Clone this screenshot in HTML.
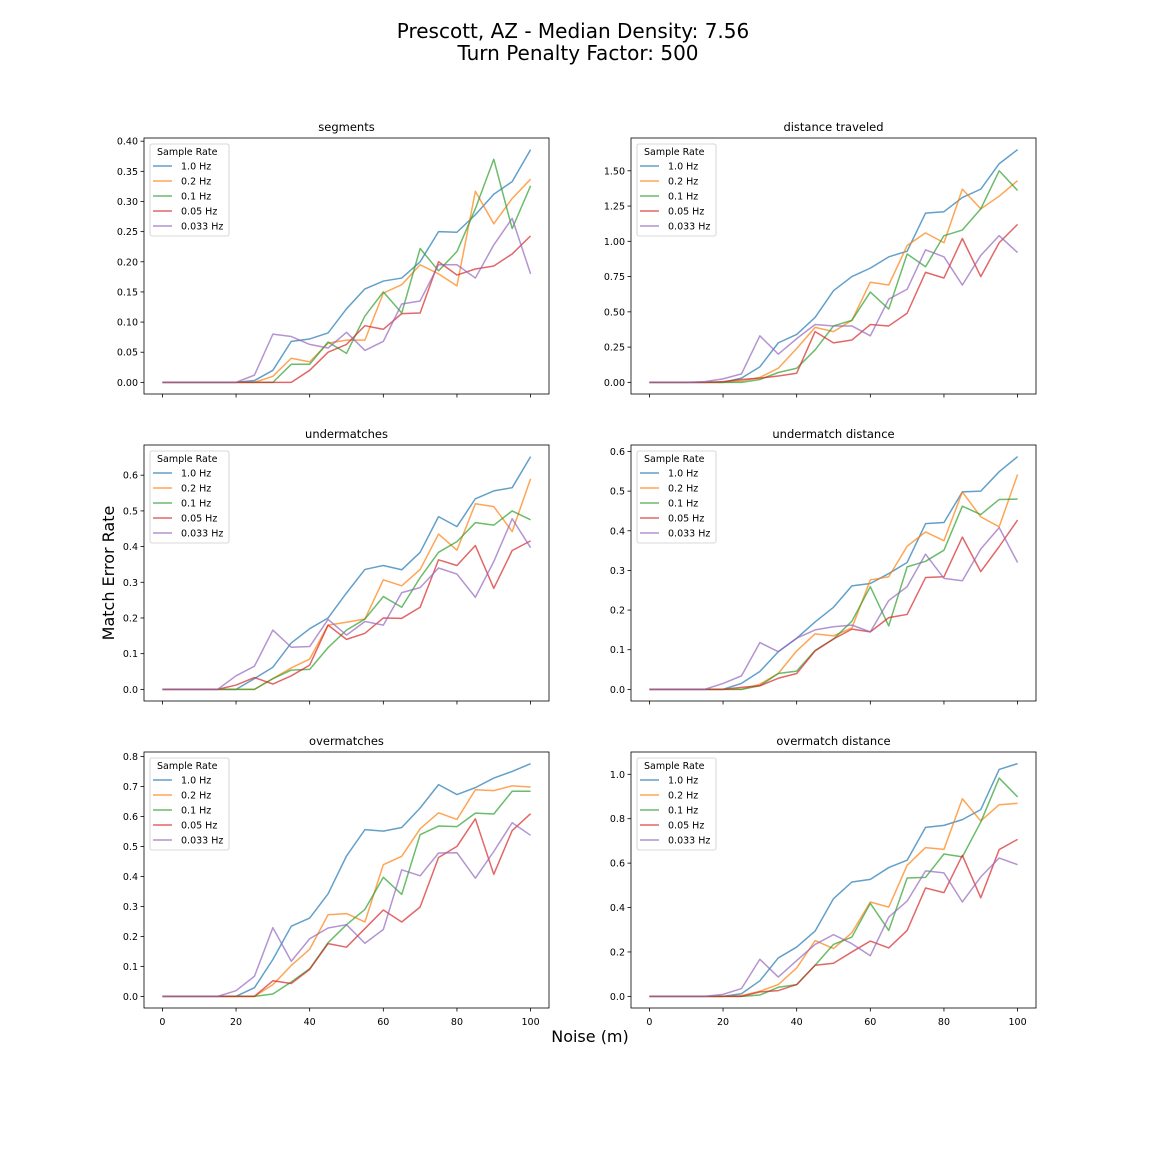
<!DOCTYPE html>
<html><head><meta charset="utf-8"><style>
body{margin:0;background:#fff;}
svg{display:block;font-family:"DejaVu Sans","Liberation Sans",sans-serif;}
</style></head><body>
<svg id="fig" width="1152" height="1152" viewBox="0 0 1152 1152" xmlns="http://www.w3.org/2000/svg">
<rect width="1152" height="1152" fill="#fff"/>
<text x="573" y="38" font-size="20" text-anchor="middle">Prescott, AZ - Median Density: 7.56</text>
<text x="578" y="60" font-size="20" text-anchor="middle">Turn Penalty Factor: 500</text>
<text transform="translate(114,573) rotate(-90)" font-size="16" text-anchor="middle">Match Error Rate</text>
<text x="590" y="1042" font-size="16" text-anchor="middle">Noise (m)</text>
<g id="panels"></g>
</svg>
<script>
const noise = [0,5,10,15,20,25,30,35,40,45,50,55,60,65,70,75,80,85,90,95,100];
const seriesNames = ["1.0 Hz","0.2 Hz","0.1 Hz","0.05 Hz","0.033 Hz"];
const xTicks = [0,20,40,60,80,100];
const panelTitles = ["segments","distance traveled","undermatches","undermatch distance","overmatches","overmatch distance"];
const yTicks1 = [0,0.05,0.10,0.15,0.20,0.25,0.30,0.35,0.40];
const yTicks2 = [0,0.25,0.5,0.75,1.0,1.25,1.5];
const yTicks3 = [0,0.1,0.2,0.3,0.4,0.5,0.6];
const yTicks4 = [0,0.1,0.2,0.3,0.4,0.5,0.6];
const yTicks5 = [0,0.1,0.2,0.3,0.4,0.5,0.6,0.7,0.8];
const yTicks6 = [0,0.2,0.4,0.6,0.8,1.0];
const segments = [
 [0,0,0,0,0,0.003,0.02,0.068,0.072,0.082,0.122,0.155,0.168,0.173,0.2,0.25,0.249,0.278,0.312,0.333,0.386],
 [0,0,0,0,0,0,0.01,0.04,0.034,0.065,0.07,0.07,0.148,0.162,0.195,0.18,0.16,0.317,0.263,0.305,0.337],
 [0,0,0,0,0,0,0,0.03,0.03,0.067,0.048,0.11,0.15,0.115,0.222,0.185,0.217,0.288,0.37,0.255,0.326],
 [0,0,0,0,0,0,0,0,0.02,0.05,0.063,0.094,0.088,0.114,0.115,0.2,0.178,0.188,0.193,0.213,0.243],
 [0,0,0,0,0,0.012,0.08,0.076,0.063,0.057,0.083,0.053,0.068,0.13,0.135,0.195,0.195,0.173,0.228,0.272,0.18]];
const distance = [
 [0,0,0,0,0,0.03,0.11,0.28,0.34,0.46,0.65,0.75,0.81,0.89,0.93,1.2,1.21,1.31,1.37,1.55,1.65],
 [0,0,0,0,0,0.01,0.035,0.1,0.24,0.39,0.36,0.44,0.71,0.69,0.97,1.06,0.99,1.37,1.23,1.32,1.43],
 [0,0,0,0,0,0,0.02,0.07,0.1,0.23,0.4,0.44,0.64,0.52,0.91,0.82,1.04,1.08,1.23,1.5,1.36],
 [0,0,0,0,0.005,0.02,0.03,0.045,0.065,0.36,0.28,0.3,0.41,0.4,0.49,0.78,0.74,1.02,0.75,0.99,1.12],
 [0,0,0,0.005,0.025,0.06,0.33,0.2,0.31,0.41,0.4,0.4,0.33,0.59,0.66,0.94,0.89,0.69,0.9,1.04,0.92]];
const undermatches = [
 [0,0,0,0,0,0.03,0.062,0.13,0.17,0.2,0.27,0.336,0.347,0.335,0.384,0.484,0.456,0.534,0.556,0.565,0.652],
 [0,0,0,0,0,0,0.03,0.06,0.085,0.18,0.188,0.197,0.307,0.29,0.336,0.435,0.39,0.52,0.512,0.442,0.59],
 [0,0,0,0,0,0,0.03,0.054,0.056,0.117,0.166,0.197,0.26,0.23,0.313,0.384,0.414,0.467,0.46,0.5,0.475],
 [0,0,0,0,0.012,0.033,0.015,0.038,0.068,0.18,0.14,0.157,0.2,0.199,0.23,0.363,0.347,0.403,0.283,0.389,0.416],
 [0,0,0,0,0.038,0.065,0.166,0.118,0.12,0.196,0.152,0.19,0.18,0.271,0.285,0.34,0.323,0.258,0.358,0.478,0.397]];
const underDist = [
 [0,0,0,0,0,0.015,0.045,0.095,0.129,0.17,0.207,0.261,0.267,0.292,0.32,0.418,0.421,0.498,0.5,0.549,0.587],
 [0,0,0,0,0,0,0.013,0.04,0.097,0.14,0.135,0.155,0.276,0.284,0.361,0.397,0.375,0.498,0.435,0.41,0.542],
 [0,0,0,0,0,0,0.009,0.04,0.046,0.098,0.127,0.172,0.259,0.16,0.309,0.323,0.351,0.462,0.441,0.479,0.48],
 [0,0,0,0,0,0.005,0.009,0.028,0.04,0.097,0.127,0.152,0.145,0.181,0.189,0.282,0.284,0.384,0.297,0.36,0.427],
 [0,0,0,0,0.015,0.034,0.118,0.095,0.129,0.15,0.158,0.162,0.145,0.224,0.259,0.341,0.28,0.274,0.354,0.408,0.32]];
const overmatches = [
 [0,0,0,0,0,0.029,0.123,0.234,0.261,0.342,0.468,0.556,0.551,0.563,0.628,0.706,0.673,0.696,0.728,0.75,0.776],
 [0,0,0,0,0,0,0.039,0.103,0.157,0.272,0.276,0.248,0.439,0.467,0.559,0.612,0.59,0.689,0.686,0.702,0.698],
 [0,0,0,0,0,0,0.008,0.048,0.092,0.179,0.239,0.29,0.397,0.34,0.539,0.568,0.566,0.611,0.608,0.684,0.684],
 [0,0,0,0,0,0,0.052,0.043,0.09,0.176,0.164,0.226,0.288,0.248,0.298,0.463,0.5,0.592,0.407,0.553,0.609],
 [0,0,0,0,0.019,0.067,0.229,0.117,0.192,0.228,0.239,0.177,0.223,0.422,0.402,0.478,0.479,0.394,0.483,0.579,0.537]];
const overDist = [
 [0,0,0,0,0,0.012,0.07,0.173,0.222,0.294,0.44,0.515,0.527,0.58,0.613,0.761,0.77,0.796,0.841,1.022,1.048],
 [0,0,0,0,0,0.003,0.023,0.053,0.128,0.251,0.215,0.287,0.425,0.402,0.59,0.67,0.662,0.89,0.79,0.863,0.869],
 [0,0,0,0,0,0,0.006,0.041,0.053,0.14,0.234,0.267,0.419,0.297,0.533,0.536,0.641,0.628,0.785,0.983,0.898],
 [0,0,0,0,0,0,0.02,0.026,0.053,0.14,0.149,0.2,0.249,0.218,0.297,0.488,0.467,0.635,0.444,0.661,0.707],
 [0,0,0,0,0.009,0.035,0.167,0.087,0.161,0.234,0.278,0.237,0.183,0.357,0.429,0.565,0.556,0.425,0.538,0.623,0.593]];

const colors = ["#1f77b4","#ff7f0e","#2ca02c","#d62728","#9467bd"];
const panelData = [segments,distance,undermatches,underDist,overmatches,overDist];
const panelTicks = [yTicks1,yTicks2,yTicks3,yTicks4,yTicks5,yTicks6];
const tickDigits = [2,2,1,1,1,1];
const NS = "http://www.w3.org/2000/svg";
const root = document.getElementById("panels");
function mk(tag, attrs, parent){const e=document.createElementNS(NS,tag);for(const k in attrs)e.setAttribute(k,attrs[k]);parent.appendChild(e);return e;}

for(let p=0;p<6;p++){
  const col=p%2,row=Math.floor(p/2);
  const L=col?631:144, R=L+405, T=138+row*307, B=T+256;
  const g=mk("g",{},root);
  
  
  const data=panelData[p];
  let ymax=0; data.forEach(s=>s.forEach(v=>{if(v>ymax)ymax=v;}));
  const ymin=-0.05*ymax, ytop=1.05*ymax;
  const xs=v=>L+(v+5)/110*(R-L);
  const ys=v=>B-(v-ymin)/(ytop-ymin)*(B-T);
  panelTicks[p].forEach(t=>{
    const y=ys(t);
    mk("line",{x1:L-3.5,x2:L,y1:y,y2:y,stroke:"#000","stroke-width":0.8},g);
    const tx=mk("text",{x:L-6,y:y+3.5,"font-size":9.5,"text-anchor":"end"},g);
    tx.textContent=t.toFixed(tickDigits[p]);
    
    
  });
  xTicks.forEach(t=>{
    const x=xs(t);
    mk("line",{x1:x,x2:x,y1:B,y2:B+3.5,stroke:"#000","stroke-width":0.8},g);
    if(row===2){
      const tx=mk("text",{x:x,y:B+17,"font-size":9.5,"text-anchor":"middle"},g);
      tx.textContent=t;
      
      
    }
  });
  data.forEach((s,i)=>{
    const pts=s.map((v,j)=>xs(noise[j]).toFixed(2)+","+ys(v).toFixed(2)).join(" ");
    const pl=mk("polyline",{points:pts,fill:"none",stroke:colors[i],"stroke-width":1.5,"stroke-opacity":0.7,"stroke-linejoin":"round"},g);
    
    
  });
  mk("rect",{x:L,y:T,width:R-L,height:B-T,fill:"none",stroke:"#000","stroke-width":0.8},g);
  const title=mk("text",{x:(L+R)/2,y:T-7,"font-size":11.5,"text-anchor":"middle"},g);
  title.textContent=panelTitles[p];
  
  
  const lg=mk("g",{},g);
  
  
  mk("rect",{x:L+6,y:T+6,width:79,height:92,rx:2,fill:"#fff","fill-opacity":0.8,stroke:"#ccc","stroke-width":0.8},lg);
  const lt=mk("text",{x:L+13,y:T+17,"font-size":9.5},lg);
  lt.textContent="Sample Rate";
  
  
  seriesNames.forEach((n,i)=>{
    const y=T+28+i*15;
    mk("line",{x1:L+9,x2:L+28,y1:y,y2:y,stroke:colors[i],"stroke-width":1.5,"stroke-opacity":0.7},lg);
    const et=mk("text",{x:L+37,y:y+3.5,"font-size":9.5},lg);
    et.textContent=n;
    
    
  });
}
</script>
</body></html>
